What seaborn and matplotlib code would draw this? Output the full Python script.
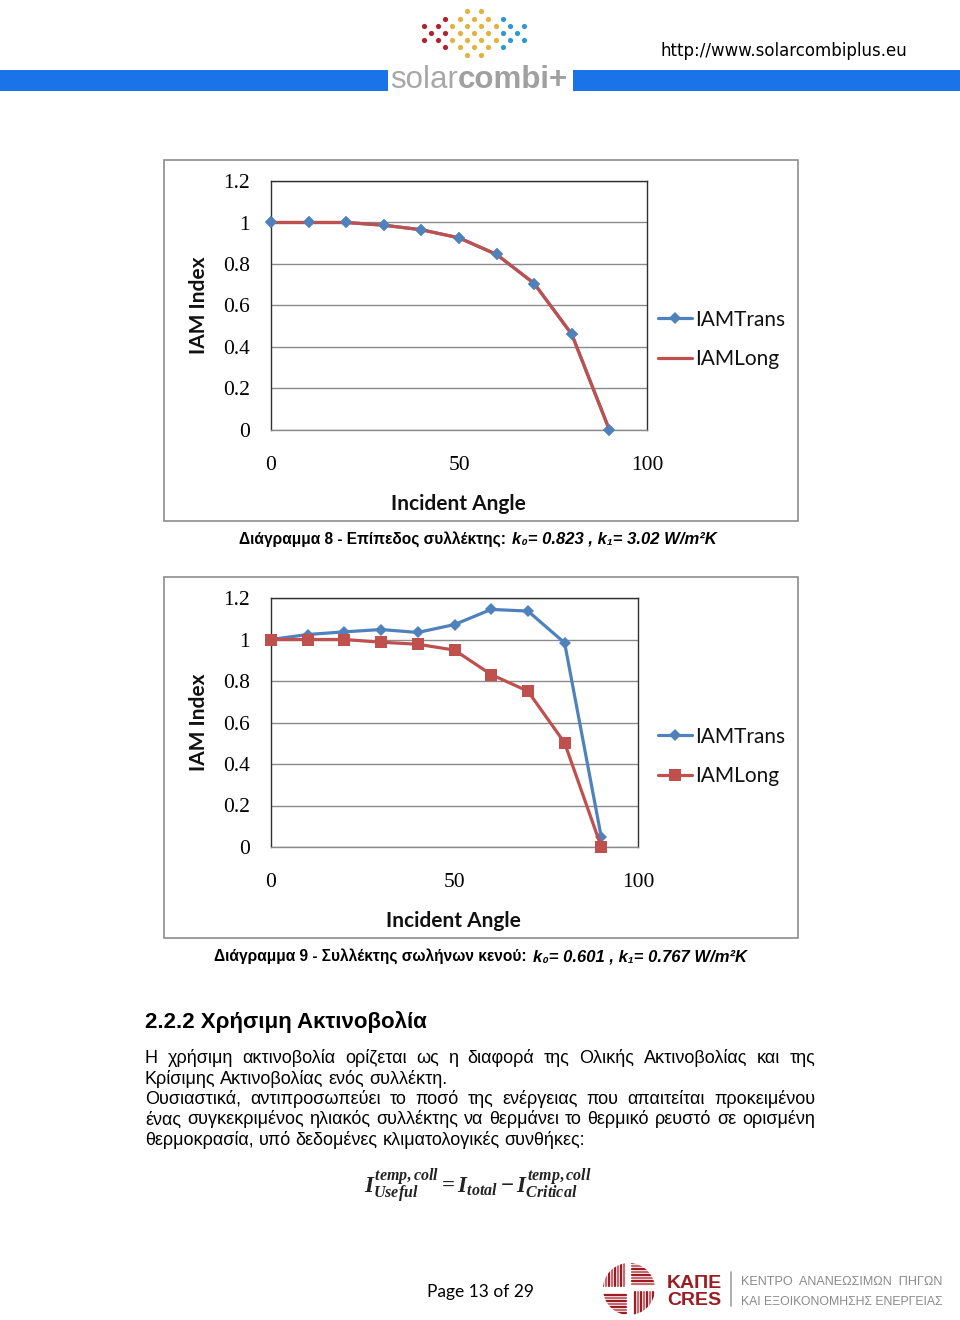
"""
Page 13 - courbes IAM (capteur plan et tubes sous vide) + texte de la page.
Sortie : out.png (960x1320)
"""

import matplotlib
matplotlib.use("Agg")

import matplotlib.pyplot as plt
import seaborn as sns
from matplotlib.patches import Circle, Rectangle


W, H = 960, 1320

# --- donnees ---
ANGLES = [0, 10, 20, 30, 40, 50, 60, 70, 80, 90]

FLAT_IAM_TRANS = [1.0, 1.0, 1.0, 0.987, 0.965, 0.926, 0.846, 0.706, 0.461, 0.0]
FLAT_IAM_LONG = [1.0, 1.0, 1.0, 0.987, 0.965, 0.926, 0.846, 0.706, 0.461, 0.0]

TUBE_IAM_TRANS = [1.0, 1.024, 1.037, 1.048, 1.034, 1.072, 1.145, 1.137, 0.984, 0.047]
TUBE_IAM_LONG = [1.0, 1.0, 1.0, 0.987, 0.977, 0.949, 0.831, 0.751, 0.502, 0.0]

X_TICKS = [0, 50, 100]
Y_TICKS = [0, 0.2, 0.4, 0.6, 0.8, 1.0, 1.2]
Y_TICK_LABELS = ["0", "0.2", "0.4", "0.6", "0.8", "1", "1.2"]

SERIES_NAMES = ["IAMTrans", "IAMLong"]

BODY_LINES = [
    ("Η χρήσιμη ακτινοβολία ορίζεται ως η διαφορά της Ολικής Ακτινοβολίας και της", True),
    ("Κρίσιμης Ακτινοβολίας ενός συλλέκτη.", False),
    ("Ουσιαστικά, αντιπροσωπεύει το ποσό της ενέργειας που απαιτείται προκειμένου", True),
    ("ένας συγκεκριμένος ηλιακός συλλέκτης να θερμάνει το θερμικό ρευστό σε ορισμένη", True),
    ("θερμοκρασία, υπό δεδομένες κλιματολογικές συνθήκες:", False),
]

BLUE = "#4F81BD"
RED = "#C0504D"

SERIF = ["Liberation Serif", "DejaVu Serif"]
CALIBRI = ["Lato", "DejaVu Sans"]
ARIAL = ["Liberation Sans", "DejaVu Sans"]


def fig_box(x0, y0, x1, y1):
    """Coordonnees pixels (haut-gauche) -> rect figure."""
    return [x0 / W, 1 - y1 / H, (x1 - x0) / W, (y1 - y0) / H]


def text_width(artist, renderer):
    return artist.get_window_extent(renderer).width


def fit_text(page, renderer, x, y, s, max_width, size, **style):
    """Texte reduit si besoin pour tenir dans max_width pixels."""
    artist = page.text(x, y, s, fontsize=size, **style)
    width = text_width(artist, renderer)
    if width > max_width:
        artist.set_fontsize(size * max_width / width)
    return artist


def draw_header(page, renderer):
    # petit logo en points
    colors = {"r": "#B0232E", "y": "#E3B23C", "b": "#2C9AD2"}
    for col in range(-7, 8):
        half = 3 - abs(col) // 3
        for row in range(-half, half + 1):
            if (col + row) % 2:
                continue
            c = "r" if col < -3 else ("y" if col <= 3 else "b")
            page.scatter(474 + col * 7.2, 33 + row * 7.2, s=14, color=colors[c],
                         linewidths=0, zorder=2)

    page.add_patch(Rectangle((0, 70), 388, 21, color="#1A73E8", lw=0))
    page.add_patch(Rectangle((573, 70), W - 573, 21, color="#1A73E8", lw=0))
    solar = page.text(390, 88, "solar", fontsize=22.5, color="#A8A8A8", family=ARIAL,
                      va="baseline", ha="left")
    page.text(390 + text_width(solar, renderer), 88, "combi+", fontsize=22.5,
              color="#A0A0A0", family=ARIAL, weight="bold", va="baseline", ha="left")
    page.text(660, 56, "http://www.solarcombiplus.eu", fontsize=12, color="black",
              family=["DejaVu Sans"], va="baseline", ha="left")


def draw_chart(fig, page, frame, plot_box, trans, long, long_marker,
               legend_y, xlabel_xy, ylabel_xy):
    x0, y0, x1, y1 = frame
    page.add_patch(Rectangle((x0, y0), x1 - x0, y1 - y0, fill=False,
                             edgecolor="#8C8C8C", lw=1.2))

    ax = fig.add_axes(fig_box(*plot_box))
    ax.set_zorder(2)

    sns.lineplot(x=ANGLES, y=trans, ax=ax, color=BLUE, linewidth=2.3,
                 marker="D", markersize=6.5, markeredgewidth=0,
                 label=SERIES_NAMES[0], clip_on=False, zorder=2)
    if long_marker:
        sns.lineplot(x=ANGLES, y=long, ax=ax, color=RED, linewidth=2.3,
                     marker="s", markersize=8, markeredgewidth=0,
                     label=SERIES_NAMES[1], clip_on=False, zorder=3)
    else:
        sns.lineplot(x=ANGLES, y=long, ax=ax, color=RED, linewidth=2.3,
                     label=SERIES_NAMES[1], clip_on=False, zorder=3)
        # les losanges bleus restent visibles par-dessus la courbe rouge
        sns.lineplot(x=ANGLES, y=trans, ax=ax, color=BLUE, linewidth=0,
                     marker="D", markersize=6.5, markeredgewidth=0,
                     clip_on=False, zorder=4)

    ax.set_xlim(0, 100)
    ax.set_ylim(0, 1.2)
    ax.set_xticks(X_TICKS)
    ax.set_yticks(Y_TICKS, Y_TICK_LABELS)
    ax.set_xlabel("")
    ax.set_ylabel("")
    ax.grid(axis="y", color="#8A8A8A", linewidth=1)
    ax.grid(axis="x", visible=False)
    ax.tick_params(length=0, labelsize=15.5, labelfontfamily=SERIF[0],
                   labelcolor="black")
    ax.tick_params(axis="x", pad=19)
    ax.tick_params(axis="y", pad=15)
    for side, spine in ax.spines.items():
        spine.set_visible(True)
        spine.set_color("#8A8A8A" if side == "bottom" else "#303030")
        spine.set_linewidth(1)

    ax.legend(loc="center left", bbox_to_anchor=(658 / W, 1 - legend_y / H),
              bbox_transform=fig.transFigure, frameon=False, borderpad=0,
              borderaxespad=0, handlelength=1.65, handletextpad=0.15,
              labelspacing=0.95, labelcolor="#111111",
              prop={"family": CALIBRI, "size": 15})

    page.text(*xlabel_xy, "Incident Angle", fontsize=15, family=CALIBRI,
              weight="bold", ha="center", va="center", color="#111111")
    page.text(*ylabel_xy, "IAM Index", fontsize=15, family=CALIBRI,
              weight="bold", ha="center", va="center", rotation=90, color="#111111")
    return ax


def draw_caption(page, split_x, y, regular, italic):
    page.text(split_x, y, regular, fontsize=11.2, family=ARIAL, weight="bold",
              ha="right", va="baseline", color="black")
    page.text(split_x + 2, y, italic, fontsize=12, family=ARIAL, weight="bold",
              style="italic", ha="left", va="baseline", color="black")


def draw_text_line(page, renderer, text, x0, x1, y, justify, **style):
    """Une ligne de texte, justifiee si besoin (mot par mot)."""
    words = text.split()
    artists = [page.text(0, y, w, ha="left", va="baseline", **style) for w in words]
    widths = [text_width(a, renderer) for a in artists]
    if justify and len(words) > 1:
        gap = (x1 - x0 - sum(widths)) / (len(words) - 1)
    else:
        gap = style.get("fontsize", 12) * 100 / 72 * 0.27
    x = x0
    for artist, width in zip(artists, widths):
        artist.set_x(x)
        x += width + gap


def draw_footer(page, renderer):
    page.text(427, 1297, "Page 13 of 29", fontsize=12.5, family=CALIBRI,
              ha="left", va="baseline", color="black")

    # logo KAPE : cercle raye avec une croix blanche
    cx, cy, r = 629, 1289, 26
    clip = Circle((cx, cy), r, transform=page.transData)
    shades = ["#9B1C22", "#C96A70"]
    k = 0
    for x in range(cx - r, cx - 3, 3):
        line, = page.plot([x, x], [cy - r, cy - 3], color=shades[k % 2], lw=1.6)
        line.set_clip_path(clip)
        line, = page.plot([x + r + 6, x + r + 6], [cy + 3, cy + r], color=shades[k % 2], lw=1.6)
        line.set_clip_path(clip)
        k += 1
    k = 0
    for y in range(cy - r, cy - 3, 3):
        line, = page.plot([cx + 3, cx + r], [y, y], color=shades[k % 2], lw=1.6)
        line.set_clip_path(clip)
        line, = page.plot([cx - r, cx - 3], [y + r + 6, y + r + 6], color=shades[k % 2], lw=1.6)
        line.set_clip_path(clip)
        k += 1

    page.text(667, 1288, "ΚΑΠΕ", fontsize=14, family=ARIAL, weight="bold",
              color="#9B1C22", ha="left", va="baseline")
    page.text(667, 1305, "CRES", fontsize=14, family=ARIAL, weight="bold",
              color="#9B1C22", ha="left", va="baseline")
    page.plot([731, 731], [1272, 1306], color="#A0A0A0", lw=1.2)
    fit_text(page, renderer, 741, 1285, "ΚΕΝΤΡΟ  ΑΝΑΝΕΩΣΙΜΩΝ  ΠΗΓΩΝ", 201, 11,
             family=ARIAL, color="#8A8A8A", ha="left", va="baseline")
    fit_text(page, renderer, 741, 1305, "ΚΑΙ ΕΞΟΙΚΟΝΟΜΗΣΗΣ ΕΝΕΡΓΕΙΑΣ", 201, 11,
             family=ARIAL, color="#8A8A8A", ha="left", va="baseline")


def main():
    sns.set_theme(style="white")
    plt.rcParams["font.family"] = ARIAL
    plt.rcParams["text.color"] = "black"
    plt.rcParams["mathtext.fontset"] = "custom"
    plt.rcParams["mathtext.it"] = "Liberation Serif:italic:bold"
    plt.rcParams["mathtext.rm"] = "Liberation Serif:bold"
    plt.rcParams["mathtext.bf"] = "Liberation Serif:bold"

    fig = plt.figure(figsize=(W / 100, H / 100), dpi=100)
    page = fig.add_axes([0, 0, 1, 1])
    page.set_xlim(0, W)
    page.set_ylim(H, 0)
    page.axis("off")
    page.set_zorder(0)
    renderer = fig.canvas.get_renderer()

    draw_header(page, renderer)

    draw_chart(fig, page, (164, 160, 798, 521), (271, 181, 647, 430),
               FLAT_IAM_TRANS, FLAT_IAM_LONG, False,
               legend_y=339.5, xlabel_xy=(458, 504), ylabel_xy=(199, 305))
    draw_caption(page, 510, 544, "Διάγραμμα 8 - Επίπεδος συλλέκτης: ",
                 "k₀= 0.823 , k₁= 3.02 W/m²K")

    draw_chart(fig, page, (164, 577, 798, 938), (271, 598, 638, 847),
               TUBE_IAM_TRANS, TUBE_IAM_LONG, True,
               legend_y=756.5, xlabel_xy=(453, 921), ylabel_xy=(199, 722))
    draw_caption(page, 531, 961, "Διάγραμμα 9 - Συλλέκτης σωλήνων κενού: ",
                 "k₀= 0.601 , k₁= 0.767 W/m²K")

    page.text(145, 1028, "2.2.2 Χρήσιμη Ακτινοβολία", fontsize=16, family=ARIAL,
              weight="bold", ha="left", va="baseline", color="black")

    for i, (line, justify) in enumerate(BODY_LINES):
        draw_text_line(page, renderer, line, 145, 815, 1063 + i * 20.5, justify,
                       fontsize=13, family=ARIAL, color="black")

    page.text(478, 1193, r"$I_{Useful}^{temp,coll} = I_{total} - I_{Critical}^{temp,coll}$",
              fontsize=16.5, color="#222222", ha="center", va="baseline")

    draw_footer(page, renderer)

    fig.savefig("out.png", dpi=100)
    plt.close(fig)


if __name__ == "__main__":
    main()
